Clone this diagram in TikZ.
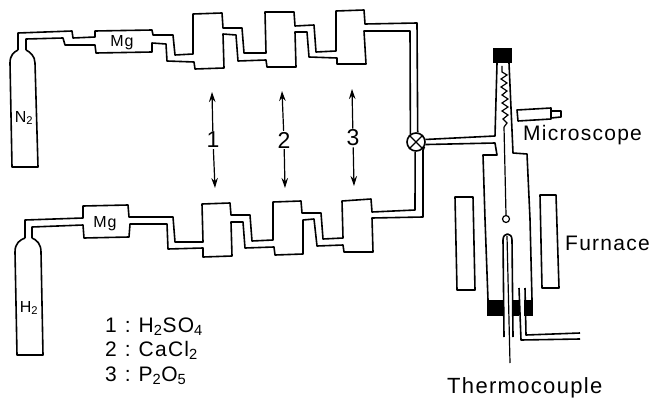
\documentclass[tikz,border=0pt]{standalone}
\usepackage{fontspec}
\usetikzlibrary{arrows.meta}
\setmainfont[LetterSpace=6]{Liberation Sans}
\begin{document}
\begin{tikzpicture}[
        x=1pt, y=-1pt,
        pipe/.style={line width=1.6pt, line join=round},
        chem/.style={font=\fontsize{16}{16}\selectfont, inner sep=0pt},
        caption/.style={font=\fontsize{21}{21}\selectfont, inner sep=0pt, anchor=base west},
        digit/.style={font=\fontsize{23}{23}\selectfont, inner sep=1pt, fill=white},
        swap arrow/.style={line width=1.2pt, -{Stealth[length=10pt,width=6.5pt]}},
    ]
    \useasboundingbox (0,0) rectangle (652,401);
    \node[draw, circle, pipe, fill=white, minimum size=18pt, inner sep=0pt](valve) at (416,142){};
    \draw[line width=1.2pt] (valve.45) -- (valve.225) (valve.135) -- (valve.315);

    \draw[pipe] (18,50) -- (18,33) -- (72,31) -- (73,38) -- (95,37) -- (95,31) -- (152,30) -- (153,35)
        -- (173,35) -- (175,55) -- (193,54) -- (193,14) -- (222,13) -- (223,28) -- (242,28) -- (244,53)
        -- (266,53) -- (265,12) -- (294,12) -- (295,26) -- (314,25) -- (316,52) -- (336,51) -- (336,11)
        -- (364,10) -- (365,24) -- (417,23) -- (valve.80);
    \draw[pipe] (26,50) -- (26,39) -- (63,38) -- (65,45) -- (95,45) -- (96,53) -- (152,52) -- (152,43)
        -- (166,44) -- (167,61) -- (194,62) -- (195,69) -- (224,68) -- (223,34) -- (236,35) -- (238,61)
        -- (266,60) -- (267,67) -- (296,67) -- (295,32) -- (307,32) -- (309,57) -- (337,58) -- (337,64)
        -- (366,64) -- (364,31) -- (410,31) -- (valve.125);
    \draw[pipe] (18,50) .. controls (14,52) and (10,55) .. (10,63) -- (12,167) -- (38,167) -- (35,63)
        .. controls (35,56) and (30,52) .. (26,50);

    \draw[pipe] (25,238) -- (25,220) -- (83,218) -- (83,206) -- (128,205) -- (129,217) -- (173,217)
        -- (175,242) -- (203,242) -- (202,204) -- (230,203) -- (231,215) -- (250,215) -- (252,241)
        -- (273,240) -- (273,202) -- (301,201) -- (302,213) -- (321,213) -- (323,239) -- (343,238)
        -- (342,201) -- (371,199) -- (372,212) -- (415,210) -- (valve.265);
    \draw[pipe] (32,238) -- (32,227) -- (83,225) -- (84,238) -- (129,237) -- (130,224) -- (167,224)
        -- (168,249) -- (203,248) -- (203,257) -- (232,256) -- (231,222) -- (243,222) -- (245,248)
        -- (274,247) -- (275,255) -- (303,254) -- (303,220) -- (314,219) -- (317,246) -- (343,245)
        -- (344,252) -- (373,252) -- (372,218) -- (423,217) -- (423,150) -- (valve.330);
    \draw[pipe] (25,238) .. controls (20,240) and (15,243) .. (15,252) -- (17,355) -- (43,355) -- (41,252)
        .. controls (41,244) and (37,240) .. (32,238);

    \node[chem](nitrogen) at (24,118){N\textsubscript{2}};
    \node[chem](hydrogen) at (29,308){H\textsubscript{2}};
    \node[chem](magtop) at (122,43){Mg};
    \node[chem](magbottom) at (105,224){Mg};

    \node[digit](one) at (213,140){1};
    \node[digit](two) at (284,140){2};
    \node[digit](three) at (353,138){3};
    \coordinate (onetop) at (212,92);
    \coordinate (onebottom) at (215,188);
    \coordinate (twotop) at (282,91);
    \coordinate (twobottom) at (285,188);
    \coordinate (threetop) at (352,89);
    \coordinate (threebottom) at (354,186);
    \draw[swap arrow] (one) -- (onetop);
    \draw[swap arrow] (one) -- (onebottom);
    \draw[swap arrow] (two) -- (twotop);
    \draw[swap arrow] (two) -- (twobottom);
    \draw[swap arrow] (three) -- (threetop);
    \draw[swap arrow] (three) -- (threebottom);

    \draw[pipe] (valve.15) -- (495,136) -- (497,63);
    \draw[pipe] (valve.345) -- (495,143) -- (497,155) -- (483,155) -- (485,219) -- (488,300);
    \draw[pipe] (509,63) -- (513,153) -- (527,154) -- (530,219) -- (532,300);
    \fill (493,48) rectangle (512,63);
    \draw[line width=1.2pt] (502,66) -- (502,72) -- (507,75) -- (501,79) -- (507,83) -- (501,87) -- (507,91)
        -- (502,95) -- (508,99) -- (502,103) -- (508,107) -- (502,111) -- (508,115) -- (503,119)
        -- (507,123) -- (504,127);
    \node[draw, circle, line width=1.2pt, minimum size=7pt, inner sep=0pt](sample) at (506,219){};
    \draw[line width=1.2pt] (504,127) -- (sample.north);

    \draw[pipe] (551,108) -- (517,110) -- (518,121) -- (551,119) -- cycle;
    \draw[pipe] (551,111) -- (561,111) -- (561,117) -- (551,118);
    \node[caption](microscope) at (523,140){Microscope};

    \draw[pipe] (455,197) -- (473,197) -- (475,290) -- (457,290) -- cycle;
    \draw[pipe] (540,195) -- (556,195) -- (559,288) -- (542,288) -- cycle;
    \node[caption](furnace) at (565,250){Furnace};

    \fill (487,300) rectangle (503,316);
    \fill (513,300) rectangle (519,316);
    \fill (524,300) rectangle (533,316);
    \draw[pipe] (504,337) -- (503,240) .. controls (503,232) and (512,232) .. (512,240) -- (513,337);
    \draw[line width=1.2pt] (507,236) -- (510,363);
    \draw[pipe] (519,288) -- (521,340) -- (580,339);
    \draw[pipe] (525,288) -- (526,335) -- (580,333);
    \node[caption, font=\fontsize{22}{22}\selectfont](thermocouple) at (447,393){Thermocouple};

    \node[caption](sulfuric) at (105,332){1\hspace{8pt}:\hspace{8pt}H\textsubscript{2}SO\textsubscript{4}};
    \node[caption](calcium) at (105,356){2\hspace{8pt}:\hspace{8pt}CaCl\textsubscript{2}};
    \node[caption](phosphorus) at (105,381){3\hspace{8pt}:\hspace{8pt}P\textsubscript{2}O\textsubscript{5}};
\end{tikzpicture}
\end{document}
